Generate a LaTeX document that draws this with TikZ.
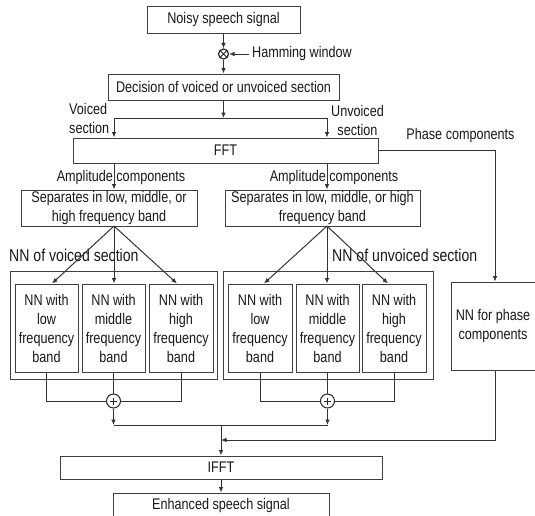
\documentclass[tikz,border=0pt]{standalone}
\usepackage{fontspec}
\setmainfont[FakeStretch=0.82]{Liberation Sans}
\usetikzlibrary{arrows.meta}
\tikzset{
  base/.style={font=\fontsize{15.4}{19}\selectfont, inner sep=0pt, text=black!90},
  box/.style={base, draw=black!75, line width=1pt, align=center},
  lbl/.style={base, align=center},
  biglbl/.style={base, font=\fontsize{17.2}{20}\selectfont},
  ln/.style={draw=black!80, line width=1pt},
  arr/.style={ln, -{Latex[length=5.5pt,width=4.6pt]}},
  otimesnode/.style={circle, draw=black!85, line width=1.2pt, minimum size=10pt, inner sep=0pt,
    path picture={\draw[line width=1pt] (path picture bounding box.north west)--(path picture bounding box.south east)
      (path picture bounding box.south west)--(path picture bounding box.north east);}},
  oplusnode/.style={circle, draw=black!85, line width=1pt, fill=white, minimum size=14pt, inner sep=0pt,
    path picture={\draw[line width=1pt] ([yshift=-3.5pt]path picture bounding box.north)--([yshift=3.5pt]path picture bounding box.south)
      ([xshift=3.5pt]path picture bounding box.west)--([xshift=-3.5pt]path picture bounding box.east);}}
}
\begin{document}
\begin{tikzpicture}[x=1pt,y=-1pt]
\useasboundingbox (0,0) rectangle (535,515);
\fill[white] (0,0) rectangle (535,515);

% top chain
\node[box, minimum width=153, minimum height=27] (noisy) at (223.5,19.5) {Noisy speech signal};
\node[otimesnode] (mul) at (223.5,54) {};
\node[lbl, anchor=west] (hamm) at (252,54) {Hamming window};
\node[box, minimum width=231, minimum height=26] (dec) at (223.5,87) {Decision of voiced or unvoiced section};
\coordinate (jn) at (223.5,118);
\coordinate (vL) at (114,118);
\coordinate (vR) at (327,118);
\node[box, minimum width=305, minimum height=25] (fft) at (225.5,150.5) {FFT};

\draw[arr] (noisy.south) -- (mul.north);
\draw[arr] (mul.south) -- (dec.north);
\draw[arr] ([xshift=-3pt]hamm.west) -- (mul.east);
\draw[arr] (dec.south) -- (jn);
\draw[ln] (vL) -- (vR);
\draw[arr] (vL) -- (vL |- fft.north);
\draw[arr] (vR) -- (vR |- fft.north);

\node[lbl, align=left, anchor=west] (vlab) at (69,118) {Voiced\\section};
\node[lbl] (uvlab) at (357.5,120) {Unvoiced\\section};
\node[lbl] (phlab) at (460.5,136) {Phase components};

% separation boxes
\node[box, minimum width=176, minimum height=36] (sepL) at (109,208) {Separates in low, middle, or\\high frequency band};
\node[box, minimum width=195, minimum height=36] (sepR) at (322.5,208) {Separates in low, middle, or high\\frequency band};
\node[lbl] (ampL) at (121,178) {Amplitude components};
\node[lbl] (ampR) at (334,178) {Amplitude components};
\draw[arr] (vL |- fft.south) -- (vL |- sepL.north);
\draw[arr] (vR |- fft.south) -- (vR |- sepR.north);

% NN groups
\node[biglbl, anchor=west] (nnvl) at (9,255) {NN of voiced section};
\node[biglbl, anchor=west] (nnul) at (332,255) {NN of unvoiced section};
\node[box, minimum width=207, minimum height=108] (outL) at (113.5,325) {};
\node[box, minimum width=210, minimum height=108] (outR) at (328,325) {};

\node[box, minimum width=63, minimum height=88] (nnL1) at (46.5,328) {NN with\\low\\frequency\\band};
\node[box, minimum width=63, minimum height=88] (nnL2) at (113.5,328) {NN with\\middle\\frequency\\band};
\node[box, minimum width=64, minimum height=88] (nnL3) at (181,328) {NN with\\high\\frequency\\band};
\node[box, minimum width=64, minimum height=88] (nnR1) at (260,328) {NN with\\low\\frequency\\band};
\node[box, minimum width=63, minimum height=88] (nnR2) at (327.5,328) {NN with\\middle\\frequency\\band};
\node[box, minimum width=64, minimum height=88] (nnR3) at (394,328) {NN with\\high\\frequency\\band};

\coordinate (apL) at (114,226);
\coordinate (apR) at (327,226);
\draw[arr] (apL) -- ([xshift=5.5pt]nnL1.north);
\draw[arr] (apL) -- ([xshift=0.5pt]nnL2.north);
\draw[arr] (apL) -- ([xshift=-4pt]nnL3.north);
\draw[arr] (apR) -- ([xshift=4pt]nnR1.north);
\draw[arr] (apR) -- ([xshift=-0.5pt]nnR2.north);
\draw[arr] (apR) -- ([xshift=-6pt]nnR3.north);

% phase NN
\node[box, minimum width=84, minimum height=88] (phase) at (493,326) {NN for phase\\components};
\coordinate (phx) at (495,150.5);
\draw[arr] (fft.east |- phx) -- (phx) -- (phx |- phase.north);

% summation
\node[oplusnode] (plusL) at (113.5,401) {};
\node[oplusnode] (plusR) at (327.5,401) {};
\draw[ln] (nnL1.south) |- (plusL.west);
\draw[ln] (nnL3.south) |- (plusL.east);
\draw[ln] (nnL2.south) -- (plusL.north);
\draw[ln] (nnR1.south) |- (plusR.west);
\draw[ln] (nnR3.south) |- (plusR.east);
\draw[ln] (nnR2.south) -- (plusR.north);

\coordinate (jn2) at (221,425);
\coordinate (jp) at (221,440);
\draw[arr] (plusL.south) -- (plusL |- jn2);
\draw[arr] (plusR.south) -- (plusR |- jn2);
\draw[ln] (plusL |- jn2) -- (plusR |- jn2);

\node[box, minimum width=322, minimum height=23] (ifft) at (221,467.5) {IFFT};
\node[box, minimum width=216, minimum height=25] (enh) at (221,505.5) {Enhanced speech signal};
\draw[arr] (jn2) -- (ifft.north);
\draw[arr] ([xshift=2pt]phase.south) |- (jp);
\draw[arr] (ifft.south) -- (enh.north);
\end{tikzpicture}
\end{document}
